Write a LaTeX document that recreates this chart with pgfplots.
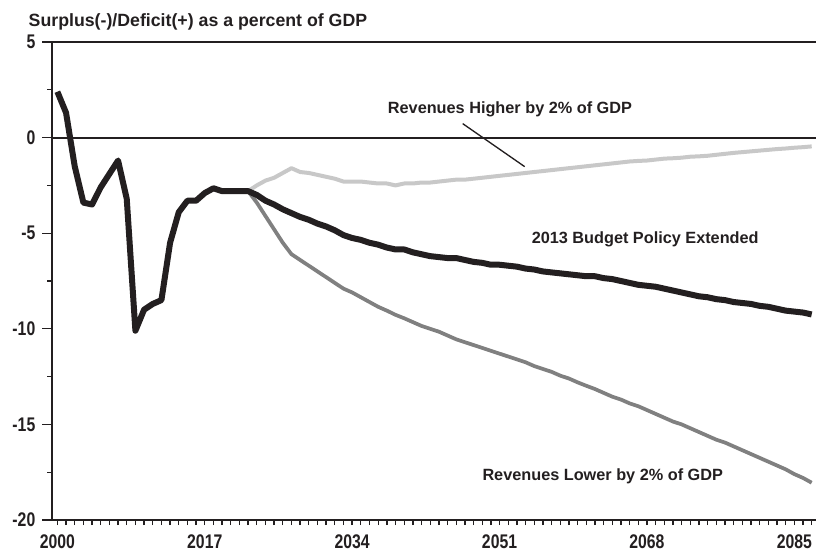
\documentclass[border=0pt]{standalone}
\usepackage{pgfplots}
\pgfplotsset{compat=1.18}
\usepackage{fontspec}
\setmainfont{Liberation Sans}
\newfontfamily\tickfont{Liberation Sans}[FakeStretch=0.8]
\definecolor{cblack}{HTML}{231F20}
\definecolor{cdark}{HTML}{808080}
\definecolor{clight}{HTML}{C8C8C8}

\pgfplotstableread{
year val
2000 2.4
2001 1.3
2002 -1.5
2003 -3.4
2004 -3.5
2005 -2.6
2006 -1.9
2007 -1.2
2008 -3.2
2009 -10.1
2010 -9.0
2011 -8.7
2012 -8.5
2013 -5.5
2014 -3.9
2015 -3.3
2016 -3.3
2017 -2.9
2018 -2.65
2019 -2.8
2020 -2.8
2021 -2.8
2022 -2.8
2023 -3.0
2024 -3.3
2025 -3.5
2026 -3.75
2027 -3.95
2028 -4.15
2029 -4.3
2030 -4.5
2031 -4.65
2032 -4.85
2033 -5.1
2034 -5.25
2035 -5.35
2036 -5.5
2037 -5.6
2038 -5.75
2039 -5.85
2040 -5.85
2041 -6.0
2042 -6.1
2043 -6.2
2044 -6.25
2045 -6.3
2046 -6.3
2047 -6.4
2048 -6.5
2049 -6.55
2050 -6.65
2051 -6.65
2052 -6.7
2053 -6.75
2054 -6.85
2055 -6.9
2056 -7.0
2057 -7.05
2058 -7.1
2059 -7.15
2060 -7.2
2061 -7.25
2062 -7.25
2063 -7.35
2064 -7.4
2065 -7.5
2066 -7.6
2067 -7.7
2068 -7.75
2069 -7.8
2070 -7.9
2071 -8.0
2072 -8.1
2073 -8.2
2074 -8.3
2075 -8.35
2076 -8.45
2077 -8.5
2078 -8.6
2079 -8.65
2080 -8.7
2081 -8.8
2082 -8.85
2083 -8.95
2084 -9.05
2085 -9.1
2086 -9.15
2087 -9.25
}\tblbase

\pgfplotstableread{
year val
2022 -2.8
2023 -2.5
2024 -2.25
2025 -2.1
2026 -1.85
2027 -1.6
2028 -1.8
2029 -1.85
2030 -1.95
2031 -2.05
2032 -2.15
2033 -2.3
2034 -2.3
2035 -2.3
2036 -2.35
2037 -2.4
2038 -2.4
2039 -2.5
2040 -2.4
2041 -2.4
2042 -2.35
2043 -2.35
2044 -2.3
2045 -2.25
2046 -2.2
2047 -2.2
2048 -2.15
2049 -2.1
2050 -2.05
2051 -2.0
2052 -1.95
2053 -1.9
2054 -1.85
2055 -1.8
2056 -1.75
2057 -1.7
2058 -1.65
2059 -1.6
2060 -1.55
2061 -1.5
2062 -1.45
2063 -1.4
2064 -1.35
2065 -1.3
2066 -1.25
2067 -1.22
2068 -1.2
2069 -1.15
2070 -1.1
2071 -1.08
2072 -1.05
2073 -1.0
2074 -0.98
2075 -0.95
2076 -0.9
2077 -0.85
2078 -0.8
2079 -0.76
2080 -0.72
2081 -0.68
2082 -0.64
2083 -0.6
2084 -0.57
2085 -0.53
2086 -0.5
2087 -0.46
}\tblhigh

\pgfplotstableread{
year val
2022 -2.8
2023 -3.4
2024 -4.1
2025 -4.8
2026 -5.5
2027 -6.1
2028 -6.4
2029 -6.7
2030 -7.0
2031 -7.3
2032 -7.6
2033 -7.9
2034 -8.1
2035 -8.35
2036 -8.6
2037 -8.85
2038 -9.05
2039 -9.27
2040 -9.45
2041 -9.65
2042 -9.85
2043 -10.0
2044 -10.15
2045 -10.35
2046 -10.55
2047 -10.7
2048 -10.85
2049 -11.0
2050 -11.15
2051 -11.3
2052 -11.45
2053 -11.6
2054 -11.75
2055 -11.95
2056 -12.1
2057 -12.25
2058 -12.45
2059 -12.6
2060 -12.8
2061 -12.98
2062 -13.15
2063 -13.35
2064 -13.55
2065 -13.7
2066 -13.9
2067 -14.05
2068 -14.25
2069 -14.45
2070 -14.65
2071 -14.85
2072 -15.0
2073 -15.2
2074 -15.4
2075 -15.6
2076 -15.8
2077 -15.95
2078 -16.15
2079 -16.35
2080 -16.55
2081 -16.75
2082 -16.95
2083 -17.15
2084 -17.35
2085 -17.6
2086 -17.8
2087 -18.05
}\tbllow

\begin{document}
\begin{tikzpicture}
\path[use as bounding box] (-39pt,-24pt) rectangle (573pt,390pt);
\begin{axis}[
  at={(0pt,0pt)}, anchor=south west,
  scale only axis,
  width=573pt, height=358.5pt,
  xmin=1999.38, xmax=2087.5,
  ymin=-20, ymax=5,
  axis lines*=left,
  axis line style={-, line width=1.4pt, color=cblack},
  tick align=outside,
  major tick length=7.5pt,
  minor tick length=3.75pt,
  tick style={line width=1pt, color=cblack},
  xtick={2000,2017,2034,2051,2068,2085},
  xticklabels={2000,2017,2034,2051,2068,2085},
  major x tick style={draw=none},
  minor xtick={2000,2001,...,2087},
  ytick={-20,-15,-10,-5,0,5},
  yticklabels={-20,-15,-10,-5,0,5},
  minor ytick={-17.5,-12.5,-7.5,-2.5,2.5},
  ticklabel style={font=\tickfont\fontsize{14.8}{16}\selectfont\bfseries, text=cblack},
  yticklabel style={xshift=-1.5pt},
  clip=false,
]
\addplot[clight, line width=3pt, line join=round] table[x=year,y=val] {\tblhigh};
\addplot[cdark, line width=2.8pt, line join=round] table[x=year,y=val] {\tbllow};
\addplot[cblack, line width=4.5pt, line join=round] table[x=year,y=val] {\tblbase};
\draw[cblack, line width=1.4pt] (axis cs:1999.38,0) -- (axis cs:2087.5,0);
\draw[cblack, line width=1.4pt] (axis cs:1999.38,5) -- (axis cs:2087.5,5);
\draw[cblack, line width=1pt] (axis cs:2046.75,0.73) -- (axis cs:2053.9,-1.52);
\node[font=\fontsize{12.2}{14}\selectfont\bfseries, text=cblack] at (axis cs:2052.2,1.48) {Revenues Higher by 2\% of GDP};
\node[font=\fontsize{12.2}{14}\selectfont\bfseries, text=cblack] at (axis cs:2067.8,-5.32) {2013 Budget Policy Extended};
\node[font=\fontsize{12.2}{14}\selectfont\bfseries, text=cblack] at (axis cs:2062.9,-17.7) {Revenues Lower by 2\% of GDP};
\end{axis}
\node[anchor=base west, font=\fontsize{13.3}{15}\selectfont\bfseries, text=cblack] at (-21pt,369.75pt) {Surplus(-)/Deficit(+) as a percent of GDP};
\end{tikzpicture}
\end{document}
